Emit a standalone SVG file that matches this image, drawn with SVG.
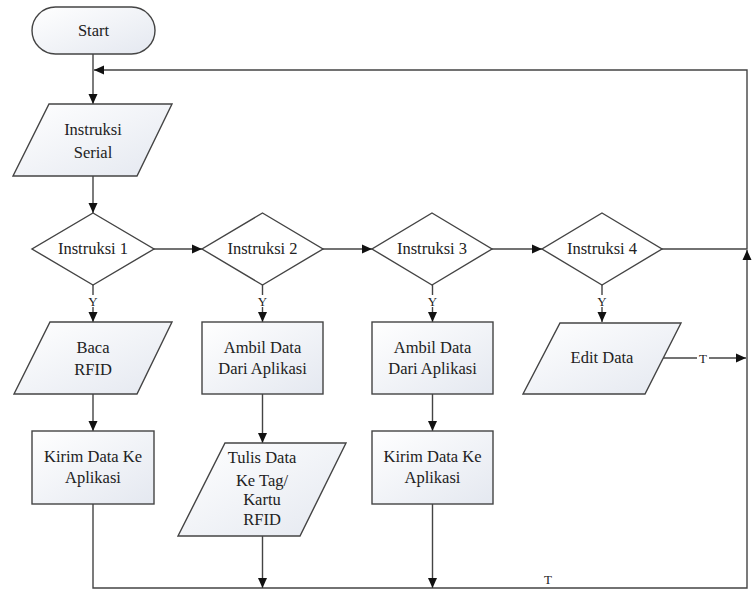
<svg xmlns="http://www.w3.org/2000/svg" width="755" height="589" viewBox="0 0 755 589">
<defs>
<linearGradient id="g" x1="0" y1="0" x2="1" y2="1">
<stop offset="0" stop-color="#ffffff"/>
<stop offset="1" stop-color="#e4e8f0"/>
</linearGradient>
<marker id="ah" viewBox="0 0 10 10" refX="10" refY="5" markerWidth="10" markerHeight="10" markerUnits="userSpaceOnUse" orient="auto">
<path d="M0,0.5 L10,5 L0,9.5 Z" fill="#111"/>
</marker>
<style>
.s{fill:url(#g);stroke:#444;stroke-width:1.4}
.d{fill:#fff;stroke:#444;stroke-width:1.4}
.t{font-family:"Liberation Serif","Times New Roman",serif;font-size:16.5px;fill:#222;text-anchor:middle}
.l{font-family:"Liberation Serif","Times New Roman",serif;font-size:13px;fill:#222;text-anchor:middle}
.c{fill:none;stroke:#444;stroke-width:1.4}
.a{marker-end:url(#ah)}
.bg{fill:#fff}
</style>
</defs>
<rect width="755" height="589" fill="#fff"/>
<g id="connectors">
<path class="c a" d="M93,54 V104"/>
<path class="c a" d="M662,249 H747 V70 H94"/>
<path class="c a" d="M93,176 V213"/>
<path class="c a" d="M154,249 H202"/>
<path class="c a" d="M323,249 H372"/>
<path class="c a" d="M492,249 H542"/>
<path class="c a" d="M93,285 V322"/>
<path class="c a" d="M262.5,285 V322"/>
<path class="c a" d="M432.5,285 V322"/>
<path class="c a" d="M602,285 V322"/>
<path class="c a" d="M93,394 V431"/>
<path class="c a" d="M262.5,394 V443"/>
<path class="c a" d="M432.5,394 V431"/>
<path class="c a" d="M93,504 V588 H747 V250"/>
<path class="c a" d="M262.5,536 V588"/>
<path class="c a" d="M432.5,504 V588"/>
<path class="c a" d="M663,358 H746"/>
<rect class="bg" x="88" y="295" width="10" height="12"/>
<text class="l" x="93" y="306">Y</text>
<rect class="bg" x="257.5" y="295" width="10" height="12"/>
<text class="l" x="262.5" y="306">Y</text>
<rect class="bg" x="427.5" y="295" width="10" height="12"/>
<text class="l" x="432.5" y="306">Y</text>
<rect class="bg" x="597" y="295" width="10" height="12"/>
<text class="l" x="602" y="306">Y</text>
<rect class="bg" x="697" y="352" width="12" height="12"/>
<text class="l" x="703" y="363">T</text>
<text class="l" x="548" y="584" font-size="12">T</text>
</g>
<g id="start">
<rect class="s" x="32" y="7" width="123" height="47" rx="23.5"/>
<text class="t" x="93.5" y="36">Start</text>
</g>
<g id="instruksi-serial">
<polygon class="s" points="49,104 172,104 137,176 13,176"/>
<text class="t" x="93" y="135">Instruksi</text>
<text class="t" x="93" y="158">Serial</text>
</g>
<g id="instruksi-1">
<polygon class="d" points="93,213 154,249 93,285 32,249"/>
<text class="t" x="93" y="254">Instruksi 1</text>
</g>
<g id="instruksi-2">
<polygon class="d" points="262.5,213 323,249 262.5,285 202,249"/>
<text class="t" x="262.5" y="254">Instruksi 2</text>
</g>
<g id="instruksi-3">
<polygon class="d" points="432,213 492,249 432,285 372,249"/>
<text class="t" x="432" y="254">Instruksi 3</text>
</g>
<g id="instruksi-4">
<polygon class="d" points="602,213 662,249 602,285 542,249"/>
<text class="t" x="602" y="254">Instruksi 4</text>
</g>
<g id="baca-rfid">
<polygon class="s" points="50,322 172,322 137,394 14,394"/>
<text class="t" x="93" y="353">Baca</text>
<text class="t" x="93" y="375">RFID</text>
</g>
<g id="kirim-data-1">
<rect class="s" x="32" y="431" width="122" height="73"/>
<text class="t" x="93" y="462">Kirim Data Ke</text>
<text class="t" x="93" y="483">Aplikasi</text>
</g>
<g id="ambil-data-1">
<rect class="s" x="202" y="322" width="121" height="72"/>
<text class="t" x="262.5" y="353">Ambil Data</text>
<text class="t" x="262.5" y="374">Dari Aplikasi</text>
</g>
<g id="tulis-data">
<polygon class="s" points="225,443 346,443 300,536 178,536"/>
<text class="t" x="262" y="463">Tulis Data</text>
<text class="t" x="262" y="486">Ke Tag/</text>
<text class="t" x="262" y="505">Kartu</text>
<text class="t" x="262" y="525">RFID</text>
</g>
<g id="ambil-data-2">
<rect class="s" x="372" y="322" width="121" height="72"/>
<text class="t" x="432.5" y="353">Ambil Data</text>
<text class="t" x="432.5" y="374">Dari Aplikasi</text>
</g>
<g id="kirim-data-2">
<rect class="s" x="372" y="431" width="121" height="73"/>
<text class="t" x="432.5" y="462">Kirim Data Ke</text>
<text class="t" x="432.5" y="483">Aplikasi</text>
</g>
<g id="edit-data">
<polygon class="s" points="560,323 681,323 645,394 523,394"/>
<text class="t" x="602" y="363">Edit Data</text>
</g>
</svg>
